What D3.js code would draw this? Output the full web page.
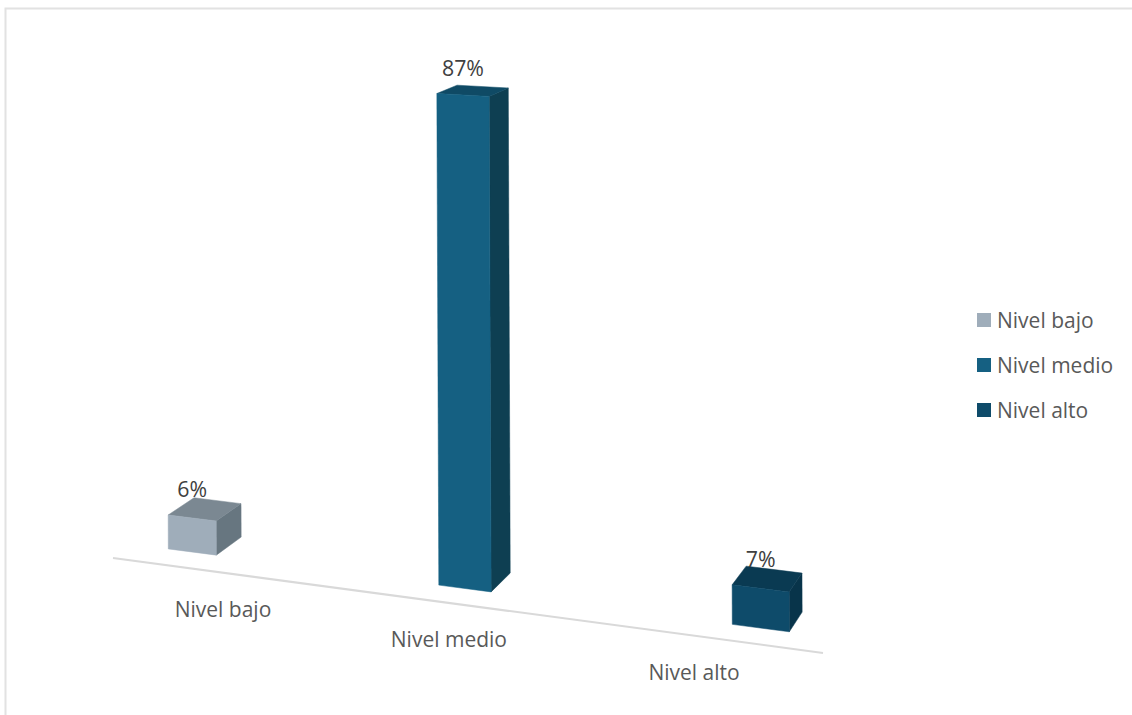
<!DOCTYPE html>
<html lang="es">
<head>
<meta charset="utf-8">
<title>Nivel</title>
<script src="https://cdn.jsdelivr.net/npm/d3@7"></script>
<style>
  html, body { margin: 0; padding: 0; background: #fff; }
  svg { display: block; }
  text { font-family: "Open Sans", sans-serif; }
</style>
</head>
<body>
<svg id="chart" width="1132" height="715"></svg>
<script>
const categories = ["Nivel bajo", "Nivel medio", "Nivel alto"];
const percentages = [6, 87, 7];
const frontColors = ["#9fadba", "#156082", "#0e4b6a"];
const topColors = ["#7b8892", "#0f4a65", "#0a3a52"];
const sideColors = ["#677680", "#0e3f52", "#08344a"];

const svg = d3.select("#chart");

// Frame around the plot: only the top and left rules are visible
svg.append("path")
  .attr("d", "M5.5,715V8.5H1132")
  .attr("fill", "none")
  .attr("stroke", "#e2e2e2")
  .attr("stroke-width", 2);

// Floor line running down towards the right
const floorY = d3.scaleLinear().domain([113, 823]).range([558, 653]);
svg.append("line")
  .attr("x1", 113).attr("y1", floorY(113))
  .attr("x2", 823).attr("y2", floorY(823))
  .attr("stroke", "#d9d9d9")
  .attr("stroke-width", 2);

// Category slots are spaced unevenly because of the perspective
const slot = d3.scalePoint().domain(categories).range([0, 1]);
const barLeft = d3.scalePow().exponent(1.06).domain([0, 1]).range([168.3, 732.3]);
const labelCenter = d3.scalePow().exponent(1.06).domain([0, 1]).range([223, 694]);
const barWidth = d3.scaleLinear().domain([168.3, 732.3]).range([48, 57]);
const barHeight = d3.scaleLinear().domain([0, 100]).range([0, 565]);

// Two-point perspective: one vanishing point for depth, one for the width edges
const depthVanish = [1400, -305];
const depthAmount = 0.021;
const sideVanish = [-6120, -268];
const lean = 0.004;

const backOf = p => [
  p[0] + depthAmount * (depthVanish[0] - p[0]),
  p[1] + depthAmount * (depthVanish[1] - p[1])
];
const alongWidth = (p, w) => [
  p[0] + w,
  p[1] + w * (p[1] - sideVanish[1]) / (p[0] - sideVanish[0])
];
const poly = d3.line();

const bars = categories.map((name, i) => {
  const x = barLeft(slot(name));
  const w = barWidth(x);
  const h = barHeight(percentages[i]);
  const bl = [x, floorY(x) - 16.5];
  const br = alongWidth(bl, w);
  const tl = [x - h * lean, bl[1] - h];
  const tr = alongWidth(tl, w);
  return { name, i, bl, br, tl, tr };
});

const barGroups = svg.selectAll("g.bar").data(bars).join("g").attr("class", "bar");

// Faces are stroked in their own colour so no seam shows between them
barGroups.append("path")
  .attr("d", d => poly([d.tr, d.br, backOf(d.br), backOf(d.tr)]) + "Z")
  .attr("fill", d => sideColors[d.i])
  .attr("stroke", d => sideColors[d.i])
  .attr("stroke-width", 0.5);
barGroups.append("path")
  .attr("d", d => poly([d.tl, d.tr, backOf(d.tr), backOf(d.tl)]) + "Z")
  .attr("fill", d => topColors[d.i])
  .attr("stroke", d => topColors[d.i])
  .attr("stroke-width", 0.5);
barGroups.append("path")
  .attr("d", d => poly([d.tl, d.tr, d.br, d.bl]) + "Z")
  .attr("fill", d => frontColors[d.i])
  .attr("stroke", d => frontColors[d.i])
  .attr("stroke-width", 0.5);

// Value labels above each bar
svg.selectAll("text.value").data(bars).join("text")
  .attr("class", "value")
  .attr("x", d => (d.tl[0] + d.tr[0]) / 2)
  .attr("y", d => d.tl[1] - 17.5)
  .attr("text-anchor", "middle")
  .attr("font-size", 21.3)
  .attr("fill", "#404040")
  .text(d => `${percentages[d.i]}%`);

// Category labels under the floor line
svg.selectAll("text.category").data(categories).join("text")
  .attr("class", "category")
  .attr("x", d => labelCenter(slot(d)))
  .attr("y", d => floorY(labelCenter(slot(d))) + 44)
  .attr("text-anchor", "middle")
  .attr("font-size", 21)
  .attr("fill", "#595959")
  .text(d => d);

// Legend
const legendRow = d3.scalePoint().domain(categories).range([320, 410]);
const legend = svg.selectAll("g.legend").data(categories).join("g")
  .attr("class", "legend")
  .attr("transform", d => `translate(977,${legendRow(d)})`);
legend.append("rect")
  .attr("y", -7).attr("width", 14).attr("height", 14)
  .attr("fill", (d, i) => frontColors[i]);
legend.append("text")
  .attr("x", 20).attr("y", 7.5)
  .attr("font-size", 21)
  .attr("fill", "#595959")
  .text(d => d);
</script>
</body>
</html>
